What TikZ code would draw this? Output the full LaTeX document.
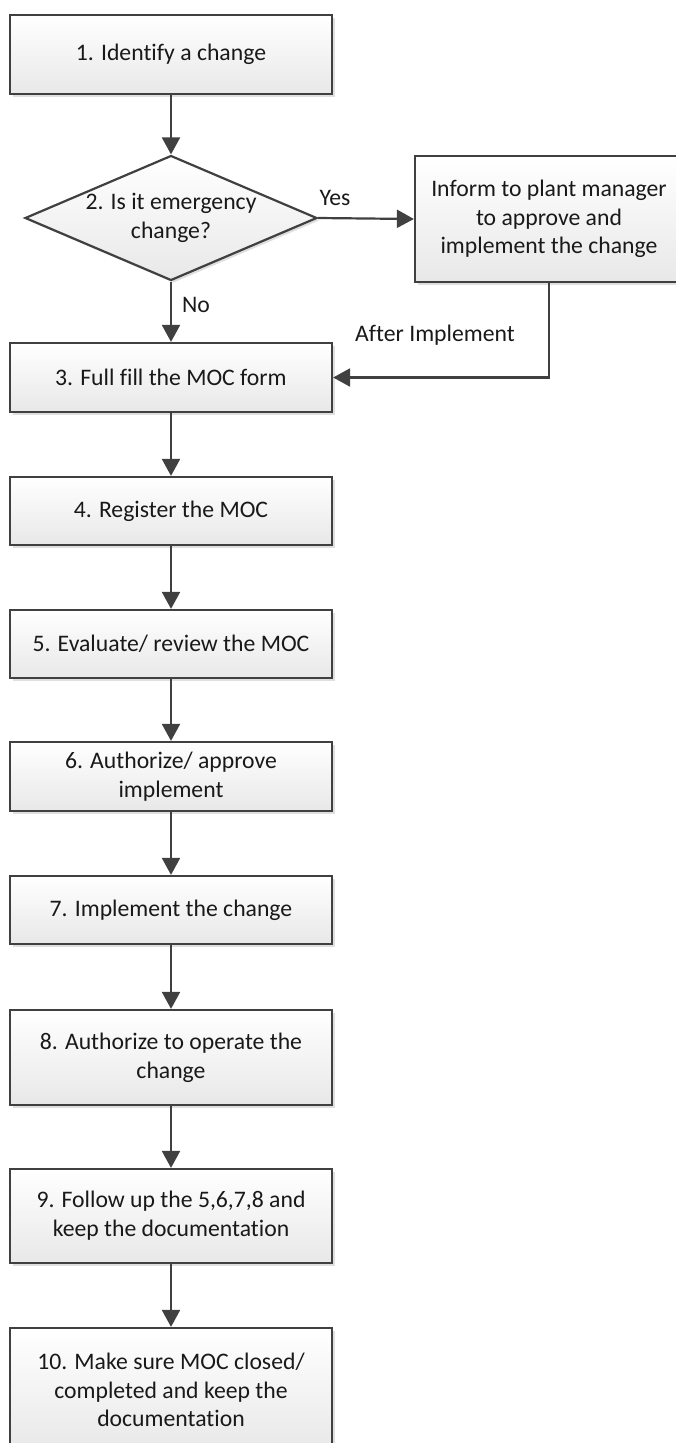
\documentclass[tikz,border=0pt]{standalone}
\usepackage{fontspec}
\setmainfont{Carlito}[Ligatures=CommonOff]
\usetikzlibrary{arrows.meta,shapes.geometric,shadows}

\definecolor{edgec}{RGB}{64,64,64}
\definecolor{fillbot}{RGB}{232,232,232}
\definecolor{textc}{RGB}{25,25,25}

\tikzset{
  stepbox/.style={draw=edgec, line width=2.2pt, top color=white, bottom color=fillbot,
    drop shadow={shadow xshift=2.5pt, shadow yshift=-2.5pt, opacity=0.25, fill=gray},
    minimum width=322pt, inner sep=0pt, align=center, text=textc},
  decision/.style={diamond, draw=edgec, line width=2.2pt, top color=white, bottom color=fillbot,
    drop shadow={shadow xshift=2.5pt, shadow yshift=-2.5pt, opacity=0.25, fill=gray},
    minimum width=292pt, minimum height=125pt, inner sep=0pt},
  flow/.style={draw=edgec, line width=2.2pt, -{Triangle[length=17pt,width=18pt]}},
  tag/.style={text=textc, inner sep=0pt}
}

\begin{document}
\begin{tikzpicture}[x=1pt, y=-1pt, font=\fontsize{23.7}{28.8}\selectfont]
  \useasboundingbox (0,0) rectangle (675,1443);

  % main column of steps
  \node[stepbox, minimum height=79pt] (s1) at (171,54.5) {1. Identify a change};
  \node[decision, label={[name=s2text, align=center, text=textc]center:2. Is it emergency\\change?}] (s2) at (171,218) {};
  \node[stepbox, minimum width=268pt, minimum height=126pt] (inf) at (549,219)
    {Inform to plant manager\\to approve and\\implement the change};
  \node[stepbox, minimum height=69pt] (s3) at (171,377.5) {3. Full fill the MOC form};
  \node[stepbox, minimum height=68pt] (s4) at (171,511) {4. Register the MOC};
  \node[stepbox, minimum height=68pt] (s5) at (171,644) {5. Evaluate/ review the MOC};
  \node[stepbox, minimum height=69pt] (s6) at (171,776.5) {6. Authorize/ approve\\implement};
  \node[stepbox, minimum height=68pt] (s7) at (171,910) {7. Implement the change};
  \node[stepbox, minimum height=95pt] (s8) at (171,1057.5) {8. Authorize to operate the\\change};
  \node[stepbox, minimum height=94pt] (s9) at (171,1216) {9. Follow up the 5,6,7,8 and\\keep the documentation};
  \node[stepbox, minimum height=124pt] (s10) at (171,1390) {10. Make sure MOC closed/\\completed and keep the\\documentation};

  % connectors
  \draw[flow] (s1) -- (s2);
  \draw[flow] (s2.east) -- (inf.west);
  \draw[flow] (s2.south) -- (s3.north);
  \draw[flow] (inf.south) |- (s3.east);
  \draw[flow] (s3) -- (s4);
  \draw[flow] (s4) -- (s5);
  \draw[flow] (s5) -- (s6);
  \draw[flow] (s6) -- (s7);
  \draw[flow] (s7) -- (s8);
  \draw[flow] (s8) -- (s9);
  \draw[flow] (s9) -- (s10);

  % branch labels
  \node[tag] (yes) at (335,198) {Yes};
  \node[tag] (no) at (196,305) {No};
  \node[tag] (after) at (435,335) {After Implement};
\end{tikzpicture}
\end{document}
